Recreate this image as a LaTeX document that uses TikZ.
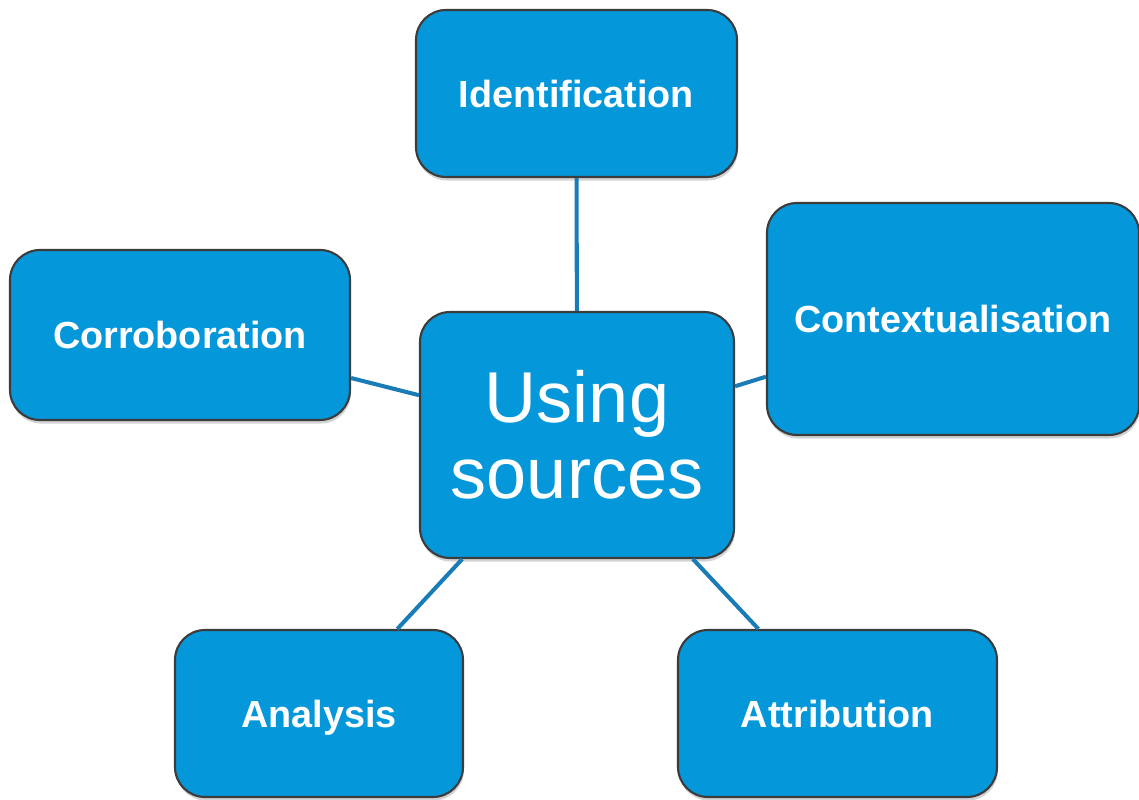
\documentclass[tikz,border=0pt]{standalone}
\usepackage{fontspec}
\setmainfont{Liberation Sans}
\usetikzlibrary{shadows}
\definecolor{boxblue}{RGB}{4,151,218}
\definecolor{linkblue}{RGB}{26,124,182}
\definecolor{rimgray}{RGB}{60,60,60}
\tikzset{
  topic/.style={rectangle, rounded corners=0.6cm, draw=rimgray, line width=1.2pt, fill=boxblue, text=white, font=\fontsize{21.5}{25}\selectfont\bfseries, text height=15.5pt, text depth=0pt, drop shadow={shadow xshift=0.5pt, shadow yshift=-2pt, opacity=0.35}},
  hub/.style={topic, text height=, text depth=, align=center, font=\fontsize{41}{43}\selectfont},
  link/.style={draw=linkblue, line width=2.3pt}
}
\begin{document}
\begin{tikzpicture}
    \useasboundingbox (0,0) rectangle (22.78,15.98);
    \node(main) [hub, minimum width=6.28cm, minimum height=4.92cm] at (11.54,7.28) {Using\\sources};
    \node(ident) [topic, minimum width=6.42cm, minimum height=3.34cm] at (11.53,14.11) {Identification};
    \node(context) [topic, minimum width=7.44cm, minimum height=4.64cm] at (19.06,9.60) {Contextualisation};
    \node(corrob) [topic, minimum width=6.80cm, minimum height=3.40cm] at (3.60,9.28) {Corroboration};
    \node(analysis) [topic, minimum width=5.76cm, minimum height=3.34cm] at (6.38,1.71) {Analysis};
    \node(attrib) [topic, minimum width=6.38cm, minimum height=3.34cm] at (16.75,1.71) {Attribution};
    \draw[link] (ident) -- (main);
    \draw[link] (context) -- (main);
    \draw[link] (corrob) -- (main);
    \draw[link] (analysis) -- (main);
    \draw[link] (attrib) -- (main);
\end{tikzpicture}
\end{document}
